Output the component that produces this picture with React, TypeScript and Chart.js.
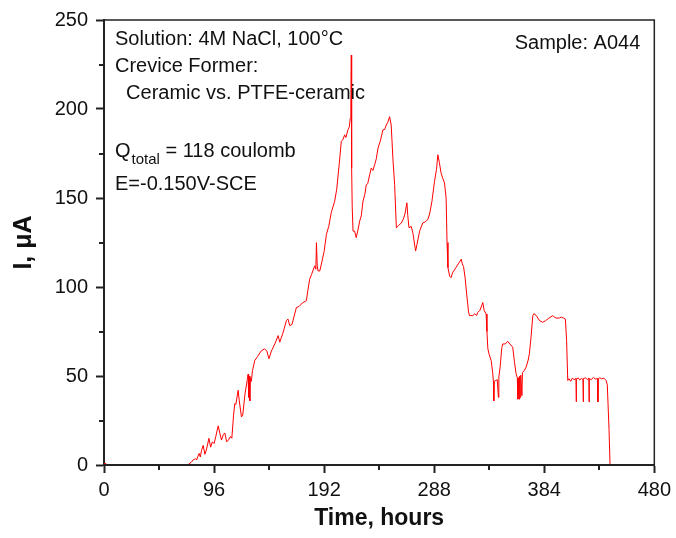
import React, { useEffect, useRef } from "react";
import { Chart, registerables } from "chart.js";

Chart.register(...registerables);

// Time in hours
const hours: number[] = [
  0, 1, 2, 3, 20, 40, 60, 72, 73, 76, 78, 80, 81, 82, 83, 84, 85, 86.5, 88, 89.5,
  91.5, 93, 94.5, 96, 97.5, 99.6, 101, 102.5, 104, 105.4, 107, 108.5, 110.3, 111.5, 113, 114.1,
  115, 117, 118, 119.9, 121, 123, 125, 125.7, 126.2, 126.5, 127.2, 127.6, 128.5, 129.5,
  131.5, 134, 137, 140, 142, 143.9, 146, 149, 151.9, 153.3, 156, 159.1, 160.5, 162, 164,
  167.8, 170, 173, 176.5, 178, 179.4, 181, 183.8, 184.8, 185.3, 186, 186.7, 188.2, 190,
  192, 194, 196, 198.3, 201.2, 203, 205, 207, 208.5, 209.9, 211, 212.8, 214, 214.8, 215.3,
  215.7, 216.0, 216.5, 217.2, 218.6, 220, 221.5, 223, 224.4, 225.9, 227.5, 228.8, 230, 231.7,
  233.1, 234.5, 236.1, 237.5, 239, 241, 243.3, 244.8, 246.2, 247.5, 249.1, 250.5, 252, 253.5,
  255, 257, 259.3, 261, 262.5, 264.2, 265, 266, 268, 269.5, 271.8, 273, 275.3, 278, 280,
  282.5, 284, 286, 288.3, 290, 291.2, 292.5, 294, 295.5, 297, 298.4, 299.2, 300, 301.5,
  302.8, 304, 305, 307.1, 309, 311.6, 312.5, 313.6, 315, 316.5, 318, 318.8, 320, 321.7,
  323.5, 325, 326, 328, 330.4, 331.5, 333.3, 334, 334.8, 336, 337.7, 339, 339.7, 340, 340.3,
  342, 343, 344, 344.4, 345.5, 347, 347.8, 350, 352.1, 354, 356.5, 358, 359.4, 360.5, 361,
  361.5, 362, 362.5, 363, 363.5, 364.5, 365, 366.5, 368.2, 370, 371, 372.5, 374, 375, 377,
  380, 382.7, 385, 388, 391.4, 393, 395, 397.2, 399, 401, 402.4, 403.5, 404.5, 405.5, 407,
  408.5, 410, 411.7, 411.9, 412.1, 413.5, 415, 416.5, 417.8, 418, 418.2, 420, 421.5, 422.9,
  423.1, 423.3, 425, 427, 428.5, 430.6, 430.8, 431, 432.5, 434, 436, 437.9, 439, 440.5, 441.4,
];

// Current in µA
const current: number[] = [
  0.6, 1, 0.5, 0, 0, 0, 0, 0, 0, 1.5, 3, 3.5, 3, 5, 6.5, 4.5, 8, 11, 6, 9,
  15, 10, 13, 12, 16, 22, 18, 14, 17, 18, 13, 14, 16, 15, 28, 34.5,
  34, 42, 36, 27, 28, 40, 48, 51, 38, 50, 36, 49, 47, 53,
  58.7, 61, 64, 65.3, 64, 59.7, 64, 68, 72.7, 69, 74, 81.1, 82, 78.3, 79,
  88.5, 89, 91, 92.3, 98.8, 104.4, 107, 111.9, 110, 124.9, 112, 109, 109, 114,
  120, 129.6, 134, 142, 148.2, 155, 168, 181.8, 183, 185.5, 184, 188.3, 190, 194.8, 200,
  230.3, 166.8, 145, 131.4, 131.4, 127.7, 132, 137, 140, 148.2, 152, 157.5, 158, 163,
  166.8, 165.5, 168.7, 172, 178, 182, 188.3, 188.5, 191, 192.5, 195.7, 191, 172, 157.5,
  133.3, 134.5, 136, 138, 141, 147.3, 140, 133.3, 134, 130, 120.2, 124, 131.4, 136, 136.5,
  138, 141, 148, 159.4, 166, 174.3, 170, 164, 161, 158.5, 150, 125, 110.9, 106,
  105.3, 108, 109, 111, 113, 115.6, 113, 111.5, 105, 95, 86, 83.9, 84, 83.9,
  85, 84, 85.7, 87, 91.3, 87, 84.8, 75, 65.3, 62, 58.7, 52, 46.6, 36, 47,
  47.5, 48, 38, 49.4, 55, 66, 68, 68, 69.5, 68, 66.2, 58, 51.3, 49, 37,
  49, 37, 50, 38, 50.5, 39, 52, 53, 55, 59, 62.5, 72, 83.9, 85, 84,
  81, 80.2, 81, 82.5, 83.9, 83, 82.5, 82.6, 83, 82.5, 82, 70, 47.5, 48.5, 47,
  48.8, 48, 48.5, 35.5, 48, 49, 47.8, 48.6, 48, 35.5, 48.5, 49, 48, 48.8,
  35.5, 48.5, 48, 49.2, 48.3, 48.5, 35.5, 48.3, 49, 48.4, 48.8, 47.5, 45, 20, 0,
];

const xMax = 480;
const xMajorStep = 96;
const xMinorStep = 48;
const yMax = 250;
const yMajorStep = 50;
const yMinorStep = 25;

const xTitle = "Time, hours";
const yTitle = "I, \u03BCA";
const noteLines = ["Solution: 4M NaCl, 100\u00B0C", "Crevice Former:", "  Ceramic vs. PTFE-ceramic"];
const noteQ = ["Q", "total", " = 118 coulomb"];
const noteE = "E=-0.150V-SCE";
const sampleLabel = "Sample: A044";

const FONT = '"Liberation Sans", Arial, sans-serif';
const AXIS = "#222";

const decorPlugin = {
  id: "decor",
  afterDatasetsDraw(chart: any) {
    const { ctx, chartArea } = chart;
    const { left, right, bottom } = chartArea;
    ctx.save();
    ctx.strokeStyle = AXIS;
    ctx.lineWidth = 2;
    ctx.beginPath();
    ctx.moveTo(left, bottom);
    ctx.lineTo(right, bottom);
    ctx.stroke();
    ctx.restore();
  },
  afterDraw(chart: any) {
    const { ctx, chartArea } = chart;
    const { left, right, top, bottom } = chartArea;
    const xs = chart.scales.x;
    const ys = chart.scales.y;
    ctx.save();
    // frame top/right
    ctx.strokeStyle = AXIS;
    ctx.lineWidth = 1.5;
    ctx.beginPath();
    ctx.moveTo(left, top);
    ctx.lineTo(right, top);
    ctx.lineTo(right, bottom);
    ctx.stroke();
    // minor ticks
    ctx.lineWidth = 2;
    ctx.beginPath();
    for (let v = xMinorStep; v < xMax; v += xMajorStep) {
      const px = Math.round(xs.getPixelForValue(v));
      ctx.moveTo(px, bottom);
      ctx.lineTo(px, bottom + 5);
    }
    for (let v = yMinorStep; v < yMax; v += yMajorStep) {
      const py = Math.round(ys.getPixelForValue(v));
      ctx.moveTo(left - 5, py);
      ctx.lineTo(left, py);
    }
    ctx.stroke();
    // annotations
    ctx.fillStyle = "#111";
    ctx.textBaseline = "alphabetic";
    ctx.font = `20px ${FONT}`;
    ctx.textAlign = "left";
    const tx = left + 11;
    noteLines.forEach((s, i) => ctx.fillText(s, tx, top + 25 + i * 27));
    let qx = tx;
    ctx.fillText(noteQ[0], qx, top + 137);
    qx += ctx.measureText(noteQ[0]).width + 1;
    ctx.font = `15px ${FONT}`;
    ctx.fillText(noteQ[1], qx, top + 144);
    qx += ctx.measureText(noteQ[1]).width;
    ctx.font = `20px ${FONT}`;
    ctx.fillText(noteQ[2], qx, top + 137);
    ctx.fillText(noteE, tx, top + 170);
    ctx.textAlign = "right";
    ctx.fillText(sampleLabel, right - 14, top + 29);
    ctx.restore();
  },
};

export default function App() {
  const ref = useRef<HTMLCanvasElement | null>(null);
  useEffect(() => {
    if (!ref.current) return;
    const chart = new Chart(ref.current, {
      type: "line",
      data: {
        datasets: [
          {
            data: hours.map((h, i) => ({ x: h, y: current[i] })),
            borderColor: "#ff0000",
            borderWidth: 1,
            pointRadius: 0,
            tension: 0,
            fill: false,
          },
        ],
      },
      options: {
        animation: false,
        responsive: true,
        maintainAspectRatio: false,
        layout: { padding: { top: 18, right: 21, left: 0, bottom: 0 } },
        plugins: { legend: { display: false }, tooltip: { enabled: false } },
        scales: {
          x: {
            type: "linear",
            min: 0,
            max: xMax,
            afterFit: (s: any) => {
              s.height = 73;
            },
            ticks: {
              stepSize: xMajorStep,
              autoSkip: false,
              maxRotation: 0,
              padding: 5,
              color: "#111",
              font: { family: FONT, size: 20 },
            },
            grid: {
              drawOnChartArea: false,
              drawTicks: true,
              tickLength: 8,
              tickWidth: 2,
              tickColor: AXIS,
            },
            border: { color: AXIS, width: 2 },
            title: {
              display: true,
              text: xTitle,
              color: "#111",
              font: { family: FONT, size: 23, weight: "bold" },
              padding: { top: 0, bottom: 6 },
            },
          },
          y: {
            type: "linear",
            min: 0,
            max: yMax,
            afterFit: (s: any) => {
              s.width = 104;
            },
            ticks: {
              stepSize: yMajorStep,
              autoSkip: false,
              padding: 8,
              color: "#111",
              font: { family: FONT, size: 20 },
            },
            grid: {
              drawOnChartArea: false,
              drawTicks: true,
              tickLength: 8,
              tickWidth: 2,
              tickColor: AXIS,
            },
            border: { color: AXIS, width: 2 },
            title: {
              display: true,
              text: yTitle,
              color: "#111",
              font: { family: FONT, size: 25, weight: "bold" },
              padding: { top: 9, bottom: 0 },
            },
          },
        },
      },
      plugins: [decorPlugin],
    });
    return () => chart.destroy();
  }, []);
  return (
    <div style={{ position: "fixed", left: 0, top: 0, width: 676, height: 538, background: "#fff" }}>
      <canvas ref={ref} />
    </div>
  );
}
